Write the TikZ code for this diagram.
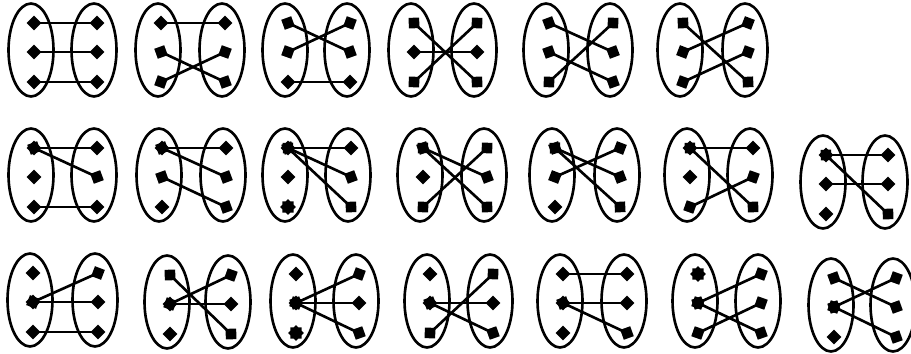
\documentclass[tikz,border=0pt]{standalone}
\usepackage{tikz}
\usetikzlibrary{shapes.geometric, arrows.meta}

% two sets side by side: #1 name, #2 left x, #3 right x, #4 y
\newcommand{\twosets}[4]{%
  \node[setring] (#1-L) at (#2,#4) {};
  \node[setring] (#1-R) at (#3,#4) {};
  \foreach \k/\dy in {1/-27,2/2,3/32} {
    \node[pt] (#1-l\k) at (#2+3,#4+\dy) {};
    \node[pt] (#1-r\k) at (#3+3,#4+\dy) {};
  }
}

\begin{document}
\begin{tikzpicture}[
  x=0.02cm, y=-0.02cm,
  setring/.style={ellipse, draw, line width=1.5pt, inner sep=0pt,
                  minimum width=0.9cm, minimum height=1.86cm},
  pt/.style={coordinate},
  link/.style={line width=1.5pt,
               {Diamond[length=8.5pt,width=8.5pt]}-{Diamond[length=8.5pt,width=8.5pt]},
               shorten <=-4.25pt, shorten >=-4.25pt},
  lone/.style={diamond, fill, inner sep=0pt, minimum size=8.5pt},
  lonestar/.style={star, star points=8, star point ratio=1.3, fill,
                   inner sep=0pt, minimum size=9pt},
]
  \useasboundingbox (0,0) rectangle (911,354);

  % first row
  \twosets{r1a}{31}{94}{50}
  \twosets{r1b}{158}{222}{50}
  \twosets{r1c}{285}{347}{50}
  \twosets{r1d}{411}{474}{50}
  \twosets{r1e}{546}{610}{50}
  \twosets{r1f}{680}{745}{50}
  \foreach \a/\b in {1/1,2/2,3/3} \draw[link] (r1a-l\a) -- (r1a-r\b);
  \foreach \a/\b in {1/1,2/3,3/2} \draw[link] (r1b-l\a) -- (r1b-r\b);
  \foreach \a/\b in {1/2,2/1,3/3} \draw[link] (r1c-l\a) -- (r1c-r\b);
  \foreach \a/\b in {1/3,2/2,3/1} \draw[link] (r1d-l\a) -- (r1d-r\b);
  \foreach \a/\b in {1/2,2/3,3/1} \draw[link] (r1e-l\a) -- (r1e-r\b);
  \foreach \a/\b in {1/3,2/1,3/2} \draw[link] (r1f-l\a) -- (r1f-r\b);

  % second row
  \twosets{r2a}{31}{94}{175}
  \twosets{r2b}{159}{223}{175}
  \twosets{r2c}{285}{348}{175}
  \twosets{r2d}{420}{484}{175}
  \twosets{r2e}{552}{617}{175}
  \twosets{r2f}{687}{750}{175}
  \twosets{r2g}{823}{885}{182}
  \foreach \a/\b in {1/1,1/2,3/3} \draw[link] (r2a-l\a) -- (r2a-r\b);
  \foreach \a/\b in {1/1,1/2,2/3} \draw[link] (r2b-l\a) -- (r2b-r\b);
  \foreach \a/\b in {1/1,1/2,1/3} \draw[link] (r2c-l\a) -- (r2c-r\b);
  \foreach \a/\b in {1/2,1/3,3/1} \draw[link] (r2d-l\a) -- (r2d-r\b);
  \foreach \a/\b in {1/2,1/3,2/1} \draw[link] (r2e-l\a) -- (r2e-r\b);
  \foreach \a/\b in {1/1,1/3,3/2} \draw[link] (r2f-l\a) -- (r2f-r\b);
  \foreach \a/\b in {1/1,1/3,2/2} \draw[link] (r2g-l\a) -- (r2g-r\b);
  \node[lone] (r2a-m2) at (r2a-l2) {};
  \node[lone] (r2b-m3) at (r2b-l3) {};
  \node[lone] (r2c-m2) at (r2c-l2) {};
  \node[lonestar] (r2c-m3) at (r2c-l3) {};
  \node[lone] (r2d-m2) at (r2d-l2) {};
  \node[lone] (r2e-m3) at (r2e-l3) {};
  \node[lone] (r2f-m2) at (r2f-l2) {};
  \node[lone] (r2g-m3) at (r2g-l3) {};

  % third row
  \twosets{r3a}{30}{95}{300}
  \twosets{r3b}{167}{228}{302}
  \twosets{r3c}{293}{356}{301}
  \twosets{r3d}{427}{490}{301}
  \twosets{r3e}{560}{624}{301}
  \twosets{r3f}{695}{758}{301}
  \twosets{r3g}{831}{893}{305}
  \foreach \a/\b in {2/1,2/2,3/3} \draw[link] (r3a-l\a) -- (r3a-r\b);
  \foreach \a/\b in {2/1,2/2,1/3} \draw[link] (r3b-l\a) -- (r3b-r\b);
  \foreach \a/\b in {2/1,2/2,2/3} \draw[link] (r3c-l\a) -- (r3c-r\b);
  \foreach \a/\b in {2/2,2/3,3/1} \draw[link] (r3d-l\a) -- (r3d-r\b);
  \foreach \a/\b in {1/1,2/2,2/3} \draw[link] (r3e-l\a) -- (r3e-r\b);
  \foreach \a/\b in {2/1,2/3,3/2} \draw[link] (r3f-l\a) -- (r3f-r\b);
  \foreach \a/\b in {1/2,2/1,2/3} \draw[link] (r3g-l\a) -- (r3g-r\b);
  \node[lone] (r3a-m1) at (r3a-l1) {};
  \node[lone] (r3b-m3) at (r3b-l3) {};
  \node[lone] (r3c-m1) at (r3c-l1) {};
  \node[lonestar] (r3c-m3) at (r3c-l3) {};
  \node[lone] (r3d-m1) at (r3d-l1) {};
  \node[lone] (r3e-m3) at (r3e-l3) {};
  \node[lonestar] (r3f-m1) at (r3f-l1) {};
  \node[lone] (r3g-m3) at (r3g-l3) {};
\end{tikzpicture}
\end{document}
